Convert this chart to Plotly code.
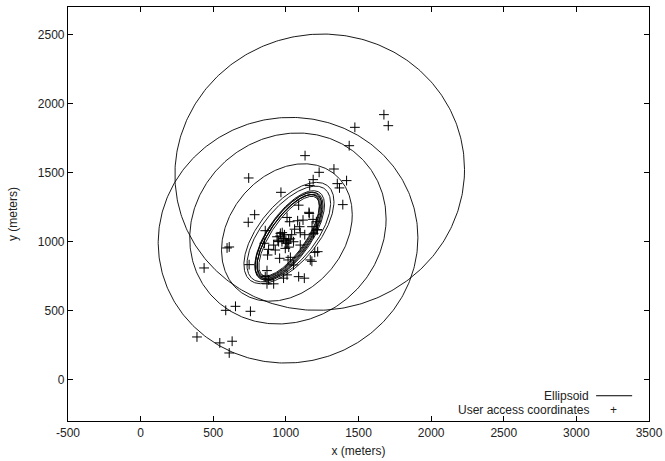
import numpy as np
import plotly.graph_objects as go

# ---- data: user access coordinates ----
pts_x = [1675, 1705, 1475, 1436, 1132, 744, 1229, 1331, 1188, 1418, 1354, 1369, 1392, 1164,
         966, 785, 741, 595, 610, 437, 747, 653, 586, 756, 388, 545, 630, 610,
         1088, 1008, 1026, 1081, 1118, 1161, 1187, 1210, 1180, 1214, 1191, 1095, 1099, 1053,
         1099, 858, 852, 881, 874, 916, 927, 957, 996, 984, 1019, 962, 939, 973, 1003, 1031,
         1015, 1168, 1219, 1053, 870, 858, 881, 870, 916, 984, 1008, 1088, 1127,
         1159, 1199, 1217, 1179, 950, 960, 990, 1000, 1010, 1030, 1040, 975, 945, 1020, 1060, 1130]
pts_y = [1920, 1840, 1828, 1695, 1623, 1461, 1502, 1526, 1449, 1442, 1420, 1389, 1268, 1406,
         1357, 1195, 1140, 954, 961, 809, 833, 531, 502, 495, 309, 266, 278, 193,
         1264, 1175, 1144, 1151, 1156, 1204, 1161, 1144, 1108, 1084, 1060, 1108, 1064, 999,
         975, 1079, 988, 944, 903, 975, 939, 879, 951, 1023, 1012, 1060, 1035, 999, 988, 886,
         867, 867, 927, 831, 790, 746, 723, 694, 694, 735, 759, 746, 735,
         1212, 922, 1087, 857, 1000, 1040, 1050, 1010, 990, 1020, 1050, 1065, 1010, 960, 1090, 1050]

# ---- data: ellipsoids (centre, half-extent in x / y, correlation) ----
ell_cx = [1233, 1015, 1014, 1007, 1021, 1020, 1026, 1022, 1018, 1025, 1020, 1016, 1023]
ell_cy = [1503, 1010, 1095, 1066, 1062, 1055, 1045, 1040, 1044, 1036, 1041, 1046, 1038]
ell_sx = [997, 894, 676, 450, 310, 288, 240, 234, 229, 224, 219, 214, 209]
ell_sy = [1001, 890, 692, 498, 367, 347, 324, 318, 312, 306, 300, 295, 290]
ell_rho = [0.02, 0.02, 0.10, 0.26, 0.62, 0.64, 0.68, 0.69, 0.70, 0.71, 0.72, 0.73, 0.74]

x_ticks = [-500, 0, 500, 1000, 1500, 2000, 2500, 3000, 3500]
y_ticks = [0, 500, 1000, 1500, 2000, 2500]

t = np.linspace(0, 2 * np.pi, 400)
ex, ey = [], []
for cx, cy, sx, sy, r in zip(ell_cx, ell_cy, ell_sx, ell_sy, ell_rho):
    ex += list(cx + sx * np.cos(t)) + [None]
    ey += list(cy + sy * (r * np.cos(t) + np.sqrt(1 - r * r) * np.sin(t))) + [None]

fig = go.Figure()
fig.add_trace(go.Scatter(x=ex, y=ey, mode="lines", name="Ellipsoid",
                         line=dict(color="black", width=0.9), showlegend=False))
fig.add_trace(go.Scatter(x=pts_x, y=pts_y, mode="markers", name="User access coordinates",
                         marker=dict(symbol="cross-thin", size=7, color="black",
                                     line=dict(color="black", width=1)),
                         showlegend=False))

FONT = "Liberation Sans, Arial, sans-serif"
axis_common = dict(showgrid=False, zeroline=False, showline=True, linecolor="black",
                   linewidth=1.2, mirror="ticks", ticks="inside", ticklen=5,
                   tickcolor="black", automargin=False,
                   tickfont=dict(family=FONT, size=12, color="#222"))
fig.update_xaxes(range=[-500, 3500], tickvals=x_ticks, ticktext=[str(v) for v in x_ticks],
                 title=dict(text="x (meters)", font=dict(family=FONT, size=12, color="#222"),
                            standoff=8), **axis_common)
fig.update_yaxes(range=[-300, 2700], tickvals=y_ticks, ticktext=[str(v) for v in y_ticks],
                 title=dict(text="y (meters)", font=dict(family=FONT, size=12, color="#222"),
                            standoff=17), **axis_common)

# gnuplot-style key, bottom right inside the frame
fig.add_annotation(xref="paper", yref="paper", x=0.9, y=0.061, xanchor="right", yanchor="middle",
                   text="Ellipsoid", showarrow=False, font=dict(family=FONT, size=12, color="#222"))
fig.add_annotation(xref="paper", yref="paper", x=0.9, y=0.026, xanchor="right", yanchor="middle",
                   text="User access coordinates", showarrow=False,
                   font=dict(family=FONT, size=12, color="#222"))
fig.add_shape(type="line", xref="paper", yref="paper", x0=0.909, x1=0.971, y0=0.061, y1=0.061,
              line=dict(color="black", width=1))
fig.add_annotation(xref="paper", yref="paper", x=0.939, y=0.026, xanchor="center", yanchor="middle",
                   text="+", showarrow=False, font=dict(family=FONT, size=12, color="#222"))

fig.update_layout(width=665, height=461, plot_bgcolor="white", paper_bgcolor="white",
                  margin=dict(l=68, r=16, t=7, b=40), font=dict(family=FONT, size=12, color="#222"))
fig.write_html("out.html", config={"displayModeBar": False},
               post_script="document.body.style.margin='0';document.body.style.overflow='hidden';")
